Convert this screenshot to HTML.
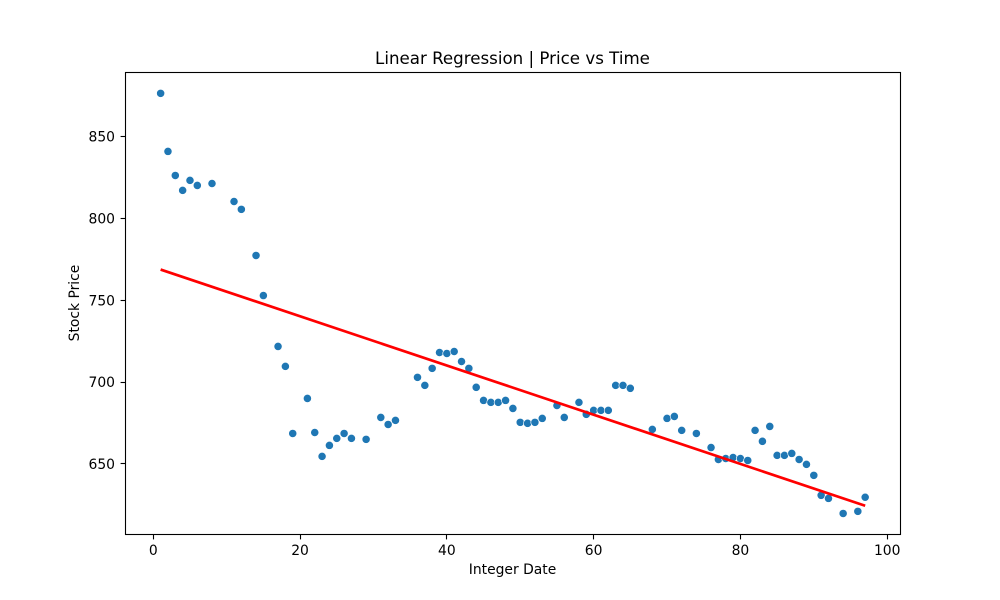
<!DOCTYPE html>
<html lang="en">
<head>
<meta charset="utf-8">
<title>Linear Regression | Price vs Time</title>
<style>
html, body { margin: 0; padding: 0; background: #fff; }
svg { display: block; }
text { font-family: "DejaVu Sans", "Liberation Sans", sans-serif; fill: #000; }
</style>
</head>
<body>
<svg id="chart" xmlns="http://www.w3.org/2000/svg" width="1000" height="600" viewBox="0 0 1000 600">
  <rect x="0" y="0" width="1000" height="600" fill="#ffffff"/>
  <text x="512.5" y="64" text-anchor="middle" font-size="16.67px">Linear Regression | Price vs Time</text>
  <text x="512.5" y="574" text-anchor="middle" font-size="13.89px">Integer Date</text>
  <text x="0" y="0" transform="translate(79,303) rotate(-90)" text-anchor="middle" font-size="13.89px">Stock Price</text>
  <g id="marks"></g>
  <g id="axes"></g>
  <rect x="125.5" y="72.5" width="775" height="462" fill="none" stroke="#000" stroke-width="1.1"/>
</svg>
<script>
const dates = [1,2,3,4,5,6,8,11,12,14,15,17,18,19,21,22,23,24,25,26,27,29,31,32,33,36,37,38,39,40,41,42,43,44,45,46,47,48,49,50,51,52,53,55,56,58,59,60,61,62,63,64,65,68,70,71,72,74,76,77,78,79,80,81,82,83,84,85,86,87,88,89,90,91,92,94,96,97];
const prices = [876.5,841,826.3,817.2,823.3,820.2,821.4,810.4,805.6,777.4,752.9,721.8,709.6,668.6,690,669.2,654.6,661.3,665.6,668.6,665.6,665,678.4,674.1,676.6,702.9,698,708.4,718.1,717.5,718.7,712.6,708.4,696.8,688.8,687.6,687.6,688.8,683.9,675.4,674.8,675.4,677.8,685.7,678.4,687.6,680.3,682.7,682.7,682.7,698,698,696.2,671.1,677.8,679,670.5,668.6,660,652.7,653.3,653.9,653.3,652.1,670.5,663.8,672.9,655.2,655.2,656.4,652.7,649.7,643,630.8,628.9,619.7,621,629.6];
const trendDates = [1,97];
const trendPrices = [768.8,624.4];
const xTicks = [0,20,40,60,80,100];
const yTicks = [650,700,750,800,850];

const NS = 'http://www.w3.org/2000/svg';
const plot = { left: 125.4, right: 900.4, top: 72.4, bottom: 534.4 };
const xMin = -3.8, xMax = 101.8, yMin = 606.9, yMax = 889.3;
function xScale(v) { return plot.left + (v - xMin) / (xMax - xMin) * (plot.right - plot.left); }
function yScale(v) { return plot.bottom - (v - yMin) / (yMax - yMin) * (plot.bottom - plot.top); }
const marks = document.getElementById('marks');
const axes = document.getElementById('axes');

dates.forEach(function (d, i) {
  const c = document.createElementNS(NS, 'circle');
  
  
  c.setAttribute('cx', xScale(d));
  c.setAttribute('cy', yScale(prices[i]));
  c.setAttribute('r', 4.1);
  c.setAttribute('fill', '#1f77b4');
  c.setAttribute('stroke', '#ffffff');
  c.setAttribute('stroke-width', 0.67);
  marks.appendChild(c);
});

const line = document.createElementNS(NS, 'polyline');


line.setAttribute('points', trendDates.map(function (d, i) { return xScale(d) + ',' + yScale(trendPrices[i]); }).join(' '));
line.setAttribute('fill', 'none');
line.setAttribute('stroke', '#ff0000');
line.setAttribute('stroke-width', 2.7);
marks.appendChild(line);

xTicks.forEach(function (t) {
  const x = xScale(t);
  const tick = document.createElementNS(NS, 'line');
  
  
  tick.setAttribute('x1', Math.floor(x) + 0.5);
  tick.setAttribute('x2', Math.floor(x) + 0.5);
  tick.setAttribute('y1', 534.5);
  tick.setAttribute('y2', 539.4);
  tick.setAttribute('stroke', '#000');
  tick.setAttribute('stroke-width', 1.1);
  axes.appendChild(tick);
  const label = document.createElementNS(NS, 'text');
  
  
  label.setAttribute('x', x);
  label.setAttribute('y', 555);
  label.setAttribute('text-anchor', 'middle');
  label.setAttribute('font-size', '13.89px');
  label.textContent = String(t);
  axes.appendChild(label);
});

yTicks.forEach(function (t) {
  const y = yScale(t);
  const tick = document.createElementNS(NS, 'line');
  
  
  tick.setAttribute('x1', 120.6);
  tick.setAttribute('x2', 125.5);
  tick.setAttribute('y1', Math.floor(y) + 0.5);
  tick.setAttribute('y2', Math.floor(y) + 0.5);
  tick.setAttribute('stroke', '#000');
  tick.setAttribute('stroke-width', 1.1);
  axes.appendChild(tick);
  const label = document.createElementNS(NS, 'text');
  
  
  label.setAttribute('x', 115);
  label.setAttribute('y', y + 5);
  label.setAttribute('text-anchor', 'end');
  label.setAttribute('font-size', '13.89px');
  label.textContent = String(t);
  axes.appendChild(label);
});
</script>
</body>
</html>
